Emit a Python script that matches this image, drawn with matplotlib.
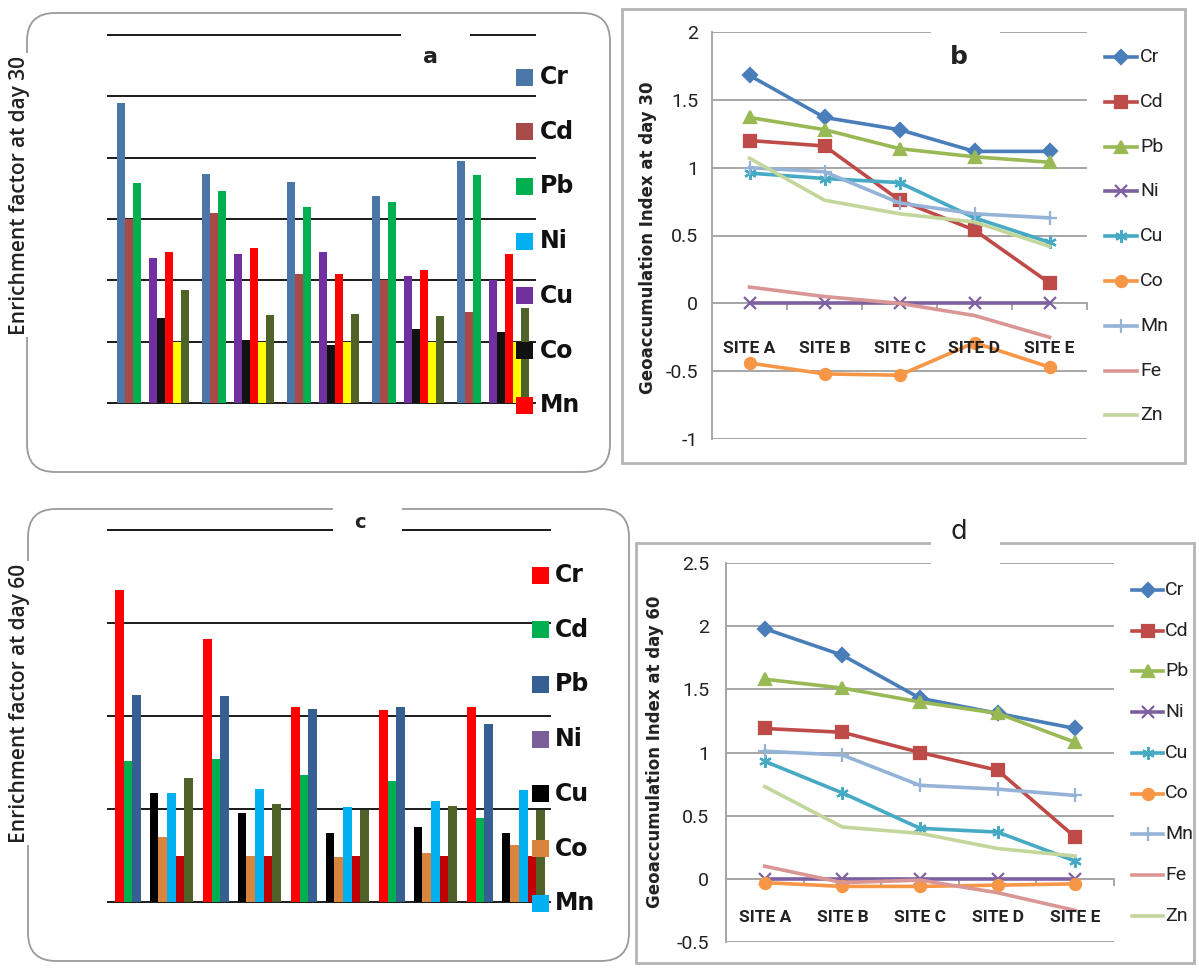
import matplotlib
matplotlib.use('Agg')
import matplotlib.pyplot as plt
from matplotlib.patches import FancyBboxPatch, Rectangle
import numpy as np

plt.rcParams['axes.unicode_minus'] = False
NARROW = ['Liberation Sans Narrow', 'Roboto', 'DejaVu Sans']

W, H = 1199, 969

sites = ['SITE A', 'SITE B', 'SITE C', 'SITE D', 'SITE E']
metals = ['Cr', 'Cd', 'Pb', 'Ni', 'Cu', 'Co', 'Mn', 'Fe', 'Zn']

# enrichment factor at day 30 (sites A..E)
ef30_cr = [4.89, 3.74, 3.61, 3.38, 3.94]
ef30_cd = [3.00, 3.09, 2.11, 2.00, 1.48]
ef30_pb = [3.58, 3.45, 3.19, 3.28, 3.72]
ef30_ni = [0, 0, 0, 0, 0]
ef30_cu = [2.37, 2.43, 2.47, 2.07, 2.00]
ef30_co = [1.39, 1.02, 0.95, 1.20, 1.16]
ef30_mn = [2.46, 2.53, 2.11, 2.17, 2.43]
ef30_fe = [1.00, 1.00, 1.00, 1.00, 1.00]
ef30_zn = [1.85, 1.43, 1.45, 1.42, 1.55]

# enrichment factor at day 60
ef60_cr = [3.35, 2.83, 2.10, 2.06, 2.10]
ef60_cd = [1.52, 1.54, 1.37, 1.30, 0.90]
ef60_pb = [2.23, 2.21, 2.08, 2.10, 1.91]
ef60_ni = [0, 0, 0, 0, 0]
ef60_cu = [1.17, 0.96, 0.74, 0.81, 0.74]
ef60_co = [0.70, 0.50, 0.48, 0.53, 0.61]
ef60_mn = [1.17, 1.22, 1.02, 1.09, 1.20]
ef60_fe = [0.50, 0.50, 0.50, 0.50, 0.50]
ef60_zn = [1.33, 1.05, 0.99, 1.03, 0.99]

# geoaccumulation index at day 30
ig30_cr = [1.68, 1.37, 1.28, 1.12, 1.12]
ig30_cd = [1.20, 1.16, 0.76, 0.54, 0.15]
ig30_pb = [1.37, 1.28, 1.14, 1.08, 1.04]
ig30_ni = [0, 0, 0, 0, 0]
ig30_cu = [0.96, 0.92, 0.89, 0.63, 0.45]
ig30_co = [-0.44, -0.52, -0.53, -0.29, -0.47]
ig30_mn = [1.00, 0.97, 0.74, 0.66, 0.63]
ig30_fe = [0.12, 0.05, 0.00, -0.09, -0.25]
ig30_zn = [1.07, 0.76, 0.66, 0.60, 0.42]

# geoaccumulation index at day 60
ig60_cr = [1.98, 1.77, 1.43, 1.31, 1.19]
ig60_cd = [1.19, 1.16, 1.00, 0.86, 0.33]
ig60_pb = [1.58, 1.51, 1.40, 1.31, 1.08]
ig60_ni = [0, 0, 0, 0, 0]
ig60_cu = [0.93, 0.68, 0.40, 0.37, 0.14]
ig60_co = [-0.03, -0.06, -0.06, -0.05, -0.04]
ig60_mn = [1.01, 0.98, 0.74, 0.71, 0.66]
ig60_fe = [0.10, -0.03, -0.01, -0.11, -0.25]
ig60_zn = [0.73, 0.41, 0.36, 0.24, 0.18]

ef30 = [ef30_cr, ef30_cd, ef30_pb, ef30_ni, ef30_cu, ef30_co, ef30_mn, ef30_fe, ef30_zn]
ef60 = [ef60_cr, ef60_cd, ef60_pb, ef60_ni, ef60_cu, ef60_co, ef60_mn, ef60_fe, ef60_zn]
ig30 = [ig30_cr, ig30_cd, ig30_pb, ig30_ni, ig30_cu, ig30_co, ig30_mn, ig30_fe, ig30_zn]
ig60 = [ig60_cr, ig60_cd, ig60_pb, ig60_ni, ig60_cu, ig60_co, ig60_mn, ig60_fe, ig60_zn]

col_a = ['#4a76a8', '#a84a48', '#00b050', '#00b0f0', '#7030a0', '#111111', '#ff0000', '#ffff00', '#4f6228']
col_c = ['#ff0000', '#00b050', '#376092', '#7a5f9a', '#000000', '#d9843c', '#00b0f0', '#c00000', '#4f6228']
col_l = ['#4a7ebb', '#be4b48', '#98b954', '#7d60a0', '#46aac4', '#f79646', '#95b3d7', '#d99694', '#c3d69b']
mark_l = ['D', 's', '^', 'x', (6, 2, 0), 'o', '+', None, None]
msize = [7, 8, 8, 8, 9, 8, 10, 0, 0]

fig = plt.figure(figsize=(W / 100, H / 100), dpi=100)


def px_axes(x0, y0, x1, y1):
    return fig.add_axes([x0 / W, 1 - y1 / H, (x1 - x0) / W, (y1 - y0) / H])


def bar_panel(rect, series, colors, ymax, bw):
    ax = px_axes(*rect)
    x = np.arange(len(sites))
    n = len(series)
    for j, (vals, c) in enumerate(zip(series, colors)):
        ax.bar(x + (j - (n - 1) / 2) * bw, vals, width=bw, color=c, linewidth=0, zorder=2)
    for yv in range(ymax + 1):
        ax.axhline(yv, xmin=-0.005, color='#1a1a1a', lw=1.4, zorder=1, clip_on=False)
    ax.set_xlim(-0.5, len(sites) - 0.5)
    ax.set_ylim(0, ymax)
    ax.axis('off')
    return ax


def line_panel(rect, series, ylo, yhi, lbl_y, pad):
    ax = px_axes(*rect)
    x = np.arange(len(sites))
    for vals, c, m, ms in zip(series, col_l, mark_l, msize):
        ax.plot(x, vals, color=c, lw=2.6, marker=m, markersize=ms,
                markeredgewidth=1.6, zorder=3, clip_on=False)
    ax.set_xlim(-0.5, len(sites) - 0.5)
    ax.set_ylim(ylo, yhi)
    ax.set_yticks(np.arange(ylo, yhi + 0.01, 0.5))
    ax.set_yticklabels([f'{v:g}' for v in np.arange(ylo, yhi + 0.01, 0.5)],
                       family=NARROW, fontsize=14, color='#222222')
    ax.yaxis.grid(True, color='#a6a6a6', lw=1.4)
    ax.set_axisbelow(True)
    for s in ['top', 'right']:
        ax.spines[s].set_visible(False)
    ax.spines['left'].set_color('#a6a6a6')
    ax.spines['left'].set_linewidth(1.4)
    ax.spines['bottom'].set_position(('data', 0))
    ax.spines['bottom'].set_color('#a6a6a6')
    ax.spines['bottom'].set_linewidth(1.4)
    ax.set_xticks(np.arange(-0.5, len(sites), 1))
    ax.tick_params(axis='x', length=5, width=1.4, color='#a6a6a6', labelbottom=False)
    ax.tick_params(axis='y', length=0, pad=pad)
    for i, s in enumerate(sites):
        ax.text(i, lbl_y, s, ha='center', va='center', family=NARROW,
                fontsize=12.5, fontweight='bold', color='#222222')
    return ax


bar_panel((110, 35, 535, 403), ef30, col_a, 6, 8 / 85)
line_panel((712, 32, 1087, 439), ig30, -1, 2, -0.33, 10)
bar_panel((110, 530, 550, 902), ef60, col_c, 4, 8.67 / 88)
line_panel((726, 563, 1114, 942), ig60, -0.5, 2.5, -0.31, 12)

# overlay in pixel coordinates for frames, titles and legends
ov = fig.add_axes([0, 0, 1, 1])
ov.set_xlim(0, W)
ov.set_ylim(H, 0)
ov.axis('off')
ov.patch.set_alpha(0)

ov.add_patch(FancyBboxPatch((27, 13), 583, 459, boxstyle='round,pad=0,rounding_size=28',
                            fc='none', ec='#9a9a9a', lw=1.3, zorder=1))
ov.add_patch(FancyBboxPatch((28, 509), 601, 452, boxstyle='round,pad=0,rounding_size=28',
                            fc='none', ec='#9a9a9a', lw=1.3, zorder=1))
ov.add_patch(Rectangle((622, 9), 563, 454, fc='none', ec='#b4b4b4', lw=2, zorder=1))
ov.add_patch(Rectangle((636, 543), 558, 420, fc='none', ec='#b4b4b4', lw=2, zorder=1))

# white gaps behind the panel letters
for gx, gy, gw, gh in [(401, 26, 69, 62), (931, 20, 69, 60), (333, 503, 69, 36), (931, 537, 69, 32)]:
    ov.add_patch(Rectangle((gx, gy), gw, gh, fc='white', ec='none', zorder=2))

ov.text(430, 57, 'a', ha='center', va='center', fontsize=16, fontweight='bold', color='#222222', zorder=4)
ov.text(959, 57, 'b', ha='center', va='center', fontsize=18, fontweight='bold', color='#222222', zorder=4)
ov.text(360, 522, 'c', ha='center', va='center', fontsize=14, fontweight='bold', color='#222222', zorder=4)
ov.text(959, 532, 'd', ha='center', va='center', fontsize=19, color='#222222', zorder=4)

lab_box = dict(fc='white', ec='none', pad=2)
ov.text(20, 195, 'Enrichment factor at day 30', rotation=90, ha='center', va='center',
        family='Open Sans', fontweight='semibold', fontsize=15, color='#222222', bbox=lab_box, zorder=4)
ov.text(20, 703, 'Enrichment factor at day 60', rotation=90, ha='center', va='center',
        family='Open Sans', fontweight='semibold', fontsize=15, color='#222222', bbox=lab_box, zorder=4)
ov.text(648, 238, 'Geoaccumulation Index at day 30', rotation=90, ha='center', va='center',
        fontsize=12, fontweight='bold', color='#222222', zorder=4)
ov.text(655, 752, 'Geoaccumulation Index at day 60', rotation=90, ha='center', va='center',
        fontsize=12, fontweight='bold', color='#222222', zorder=4)

# legends of the bar panels (seven entries shown)
for i in range(7):
    ya = 77 + i * 54.7
    ov.add_patch(Rectangle((516, ya - 8.5), 17, 17, fc=col_a[i], ec='none', zorder=3))
    ov.text(540, ya, metals[i], ha='left', va='center', fontsize=17, fontweight='bold',
            color='#111111', zorder=4)
    yc = 575 + i * 54.7
    ov.add_patch(Rectangle((532, yc - 8.5), 17, 17, fc=col_c[i], ec='none', zorder=3))
    ov.text(555, yc, metals[i], ha='left', va='center', fontsize=17, fontweight='bold',
            color='#111111', zorder=4)

# legends of the line panels
for i in range(len(metals)):
    for x0, x1, y, tx in [(1105, 1137, 57 + i * 44.8, 1140), (1132, 1163, 590 + i * 40.7, 1165)]:
        ov.plot([x0, x1], [y, y], color=col_l[i], lw=2.6, zorder=3)
        if mark_l[i] is not None:
            ov.plot([(x0 + x1) / 2], [y], color=col_l[i], marker=mark_l[i],
                    markersize=msize[i], markeredgewidth=1.6, zorder=3)
        ov.text(tx, y, metals[i], ha='left', va='center', family=NARROW, fontsize=14,
                color='#222222', zorder=4)

fig.savefig('out.png', dpi=100)
